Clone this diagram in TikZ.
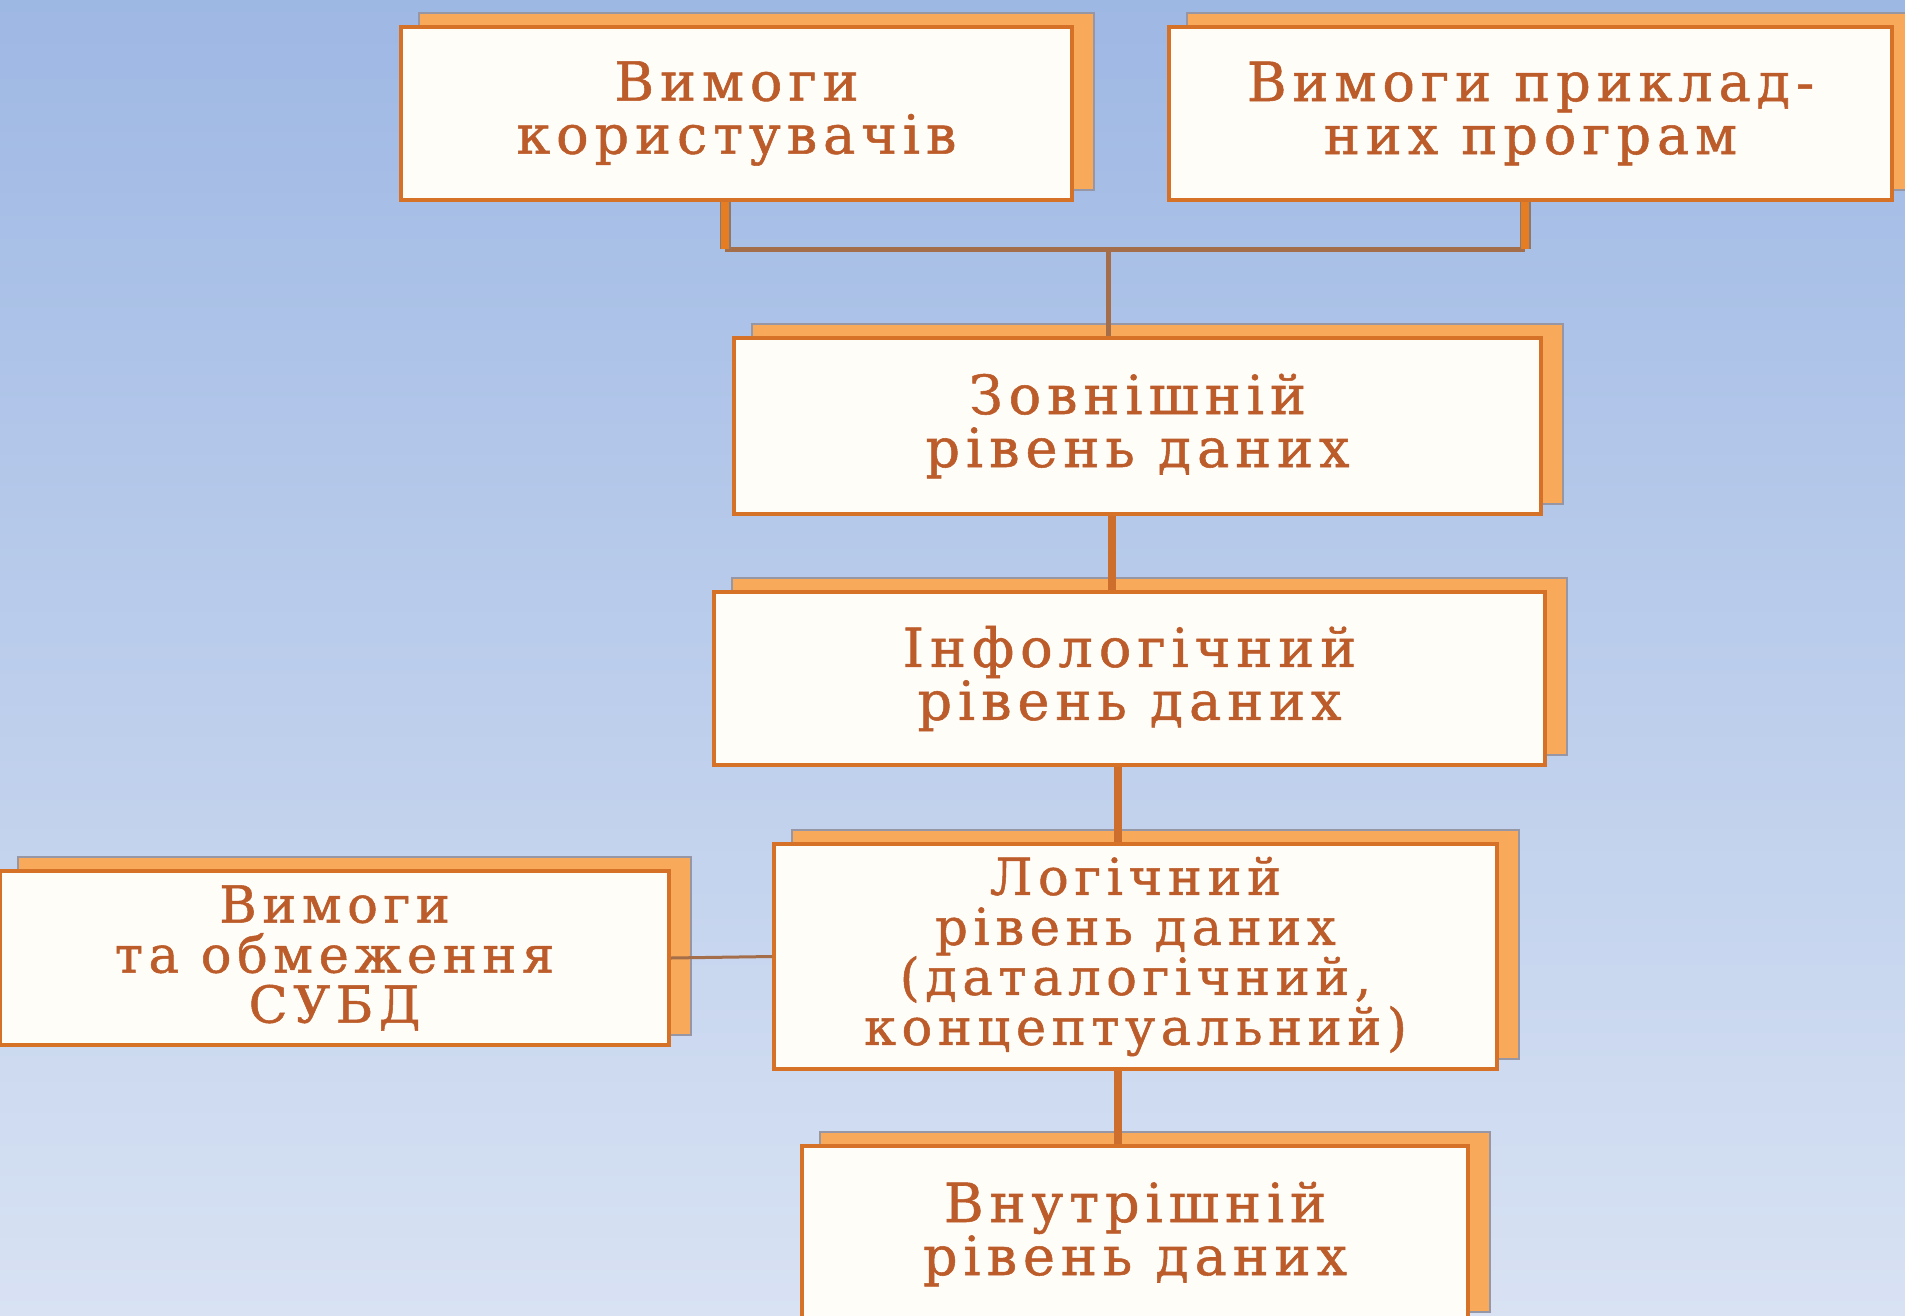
\documentclass[tikz,border=0pt]{standalone}
\usepackage{fontspec}
\newfontfamily\boxfont[LetterSpace=11,FakeBold=1]{DejaVu Serif}
\definecolor{bgTop}{RGB}{158,184,228}
\definecolor{bgBot}{RGB}{216,226,243}
\definecolor{shFill}{RGB}{248,170,90}
\definecolor{shDraw}{RGB}{150,150,165}
\definecolor{frFill}{RGB}{255,253,248}
\definecolor{frDraw}{RGB}{214,114,40}
\definecolor{txt}{RGB}{188,92,42}
\definecolor{connCol}{RGB}{205,110,45}
\definecolor{thinCol}{RGB}{165,110,75}
\definecolor{stubEdge}{RGB}{140,120,110}
\definecolor{stubCol}{RGB}{230,125,35}
\pgfdeclarelayer{bgl}
\pgfdeclarelayer{shl}
\pgfsetlayers{bgl,shl,main}
\newcommand\cardfont[2]{\boxfont\fontsize{#1}{#2}\selectfont\lineskiplimit=-100pt\relax}
\tikzset{
  card/.style={draw=frDraw, line width=4, fill=frFill, text=txt,
    font=\cardfont{54}{53}, align=center, inner sep=0},
  shadowbox/.style={fill=shFill, draw=shDraw, line width=2},
  conn/.style={draw=connCol, line width=8},
  thinconn/.style={draw=thinCol, line width=5},
  stub/.style={preaction={draw=stubEdge, line width=11}, draw=stubCol, line width=8}
}
\begin{document}
\begin{tikzpicture}[x=1pt,y=-1pt]
\useasboundingbox (0,0) rectangle (1905,1316);
\begin{pgfonlayer}{bgl}
\shade[top color=bgTop, bottom color=bgBot] (0,0) rectangle (1905,1316);
\end{pgfonlayer}

\node[card, minimum width=671, minimum height=173] (b1) at (736.5,113.5) {Вимоги\\користувачів};
\node[card, minimum width=723, minimum height=173] (b2) at (1530.5,113.5) {Вимоги приклад-\\них програм};
\node[card, minimum width=807, minimum height=176] (b3) at (1137.5,426) {Зовнішній\\рівень даних};
\node[card, minimum width=831, minimum height=173] (b4) at (1129.5,678.5) {Інфологічний\\рівень даних};
\node[card, minimum width=723, minimum height=225, font=\cardfont{51}{50}] (b5) at (1135.5,956.5) {Логічний\\рівень даних\\(даталогічний,\\концептуальний)};
\node[card, minimum width=669, minimum height=174, font=\cardfont{51}{50}] (b6) at (334.5,958) {Вимоги\\та обмеження\\СУБД};
\node[card, minimum width=666, minimum height=176] (b7) at (1135,1234) {Внутрішній\\рівень даних};

\begin{pgfonlayer}{shl}
\foreach \n in {b1,b2,b3,b4,b5,b6,b7}
  \path[shadowbox] ([shift={(20,-12)}]\n.south west) rectangle ([shift={(20,-12)}]\n.north east);
\end{pgfonlayer}

\coordinate (j1) at (725,249);
\coordinate (j2) at (1525,249);
\coordinate (jm) at (1108,249);
\coordinate (k1) at (1112,0);
\coordinate (k2) at (1118,0);
\draw[thinconn] (j1) -- (j2);
\draw[stub] (j1 |- b1.south) -- (j1);
\draw[stub] (j2 |- b2.south) -- (j2);
\draw[thinconn] (jm) -- (jm |- b3.north);
\draw[conn] (k1 |- b3.south) -- (k1 |- b4.north);
\draw[conn] (k2 |- b4.south) -- (k2 |- b5.north);
\draw[conn] (k2 |- b5.south) -- (k2 |- b7.north);
\draw[thinconn, line width=3] (b6.east) -- (b5.west);
\end{tikzpicture}
\end{document}
